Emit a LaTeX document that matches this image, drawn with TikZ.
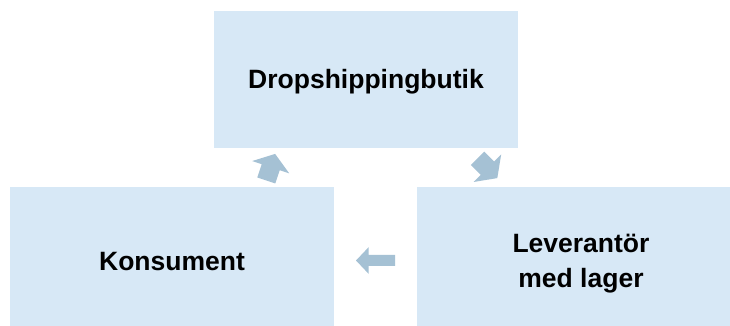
\documentclass[tikz,border=0pt]{standalone}
\usepackage{fontspec}
\setmainfont{Liberation Sans}
\usetikzlibrary{calc}
\definecolor{boxfill}{RGB}{215,232,246}
\definecolor{arrowfill}{RGB}{165,193,212}
\begin{document}
\begin{tikzpicture}[x=1pt,y=1pt,
  box/.style={fill=boxfill, draw=none, inner sep=0pt,
    font=\fontsize{26.5}{35}\selectfont\bfseries, align=center},
  arrowshape/.style={fill=arrowfill, draw=none},
  bigarrow/.pic={\fill[arrowshape] (-14,9.5) -- (0,9.5) -- (0,19.5) -- (14,0)
      -- (0,-19.5) -- (0,-9.5) -- (-14,-9.5) -- cycle;},
  longarrow/.pic={\fill[arrowshape] (-19.5,5.5) -- (6.9,5.5) -- (6.9,13.3) -- (19.5,0)
      -- (6.9,-13.3) -- (6.9,-5.5) -- (-19.5,-5.5) -- cycle;}]
\clip (0,0) rectangle (730,326);
\fill[white] (0,0) rectangle (730,326);
\node[box, minimum width=304pt, minimum height=137pt] (shop) at (366,246.5) {};
\node[box, minimum width=324pt, minimum height=143pt] (cons) at (172,67.5) {};
\node[box, minimum width=324pt, minimum height=143pt] (supp) at (579,67.5) {};
\node[box, fill=none] (shoptext) at ($(shop.center)+(0,-2)$) {Dropshippingbutik};
\node[box, fill=none] (constext) at ($(cons.center)+(0,-3)$) {Konsument};
\node[box, fill=none] (supptext) at ($(supp.center)+(2,-5)$) {Leverantör\\med lager};
\pic[rotate=71.6] (up) at (270.7,158.8) {bigarrow};
\pic[rotate=-45] (down) at (487.4,157.8) {bigarrow};
\pic[rotate=180] (left) at ($(cons.east)!0.5!(supp.west)+(0,-2)$) {longarrow};
\end{tikzpicture}
\end{document}
